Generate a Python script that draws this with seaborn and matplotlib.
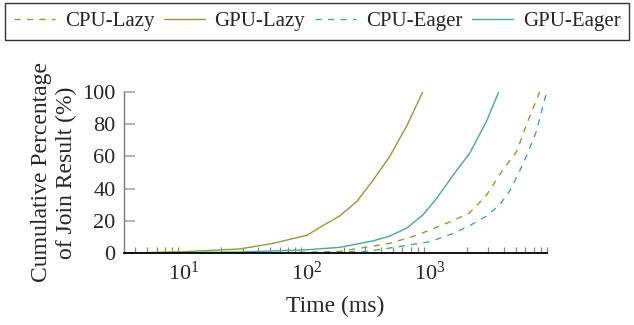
import numpy as np
import pandas as pd
import matplotlib
matplotlib.use("Agg")
import matplotlib.pyplot as plt
import seaborn as sns
from matplotlib.lines import Line2D

# Data (time in ms, cumulative % of join result)
gpu_lazy_t = [3.25, 5.3, 10, 13.5, 28.5, 53, 100, 135, 185, 255, 344, 473, 650, 877]
gpu_lazy_p = [0, 0.3, 0.8, 1.3, 2.5, 6, 11, 17, 23, 32, 45, 60, 79, 100]

gpu_eager_t = [3.25, 10, 28.5, 100, 185, 344, 473, 650, 877, 1140, 1538, 2115, 2904, 3640]
gpu_eager_p = [0, 0.3, 0.6, 2, 3.5, 7.5, 10.5, 15.5, 23.5, 34, 48, 62, 82, 100]

cpu_lazy_t = [3.25, 50, 100, 185, 473, 783, 1140, 1538, 2115, 2904, 3920, 5094, 6150, 7834]
cpu_lazy_p = [0, 0.2, 0.5, 1, 6, 11, 16, 20, 25, 36, 51.5, 63, 80, 100]

cpu_eager_t = [3.25, 100, 307, 570, 1000, 1538, 2115, 2904, 3709, 4467, 5395, 6265, 7413, 8930]
cpu_eager_p = [0, 0, 1, 4, 7, 12, 17, 23, 30, 38.5, 51, 62, 76, 100]

series_names = ["CPU-Lazy", "GPU-Lazy", "CPU-Eager", "GPU-Eager"]
y_ticks = [0, 20, 40, 60, 80, 100]

frames = []
for name, t, p in [("CPU-Lazy", cpu_lazy_t, cpu_lazy_p),
                   ("GPU-Lazy", gpu_lazy_t, gpu_lazy_p),
                   ("CPU-Eager", cpu_eager_t, cpu_eager_p),
                   ("GPU-Eager", gpu_eager_t, gpu_eager_p)]:
    frames.append(pd.DataFrame({"time": t, "pct": p, "series": name}))
df = pd.concat(frames, ignore_index=True)

sns.set_theme(style="white")
plt.rcParams["font.family"] = ["Liberation Serif", "DejaVu Serif"]
plt.rcParams["mathtext.fontset"] = "custom"
plt.rcParams["mathtext.rm"] = "Liberation Serif"
plt.rcParams["mathtext.it"] = "Liberation Serif:italic"

olive = "#999933"
teal = "#44AA99"
palette = {"CPU-Lazy": olive, "GPU-Lazy": olive, "CPU-Eager": teal, "GPU-Eager": teal}
dashes = {"CPU-Lazy": (4.5, 4.5), "GPU-Lazy": "", "CPU-Eager": (4.5, 4.5), "GPU-Eager": ""}

fig = plt.figure(figsize=(6.34, 3.25), dpi=100)
ax = fig.add_axes([124 / 634, 1 - 253 / 325, (547 - 124) / 634, (253 - 92) / 325])

sns.lineplot(data=df, x="time", y="pct", hue="series", style="series",
             hue_order=series_names, style_order=series_names,
             palette=palette, dashes=dashes, estimator=None, linewidth=1.0,
             ax=ax, legend=False)

ax.set_xscale("log")
ax.set_xlim(3.25, 9000)
ax.set_ylim(0, 100)
ax.set_yticks(y_ticks)
ax.set_xticks([10, 100, 1000])
ax.set_xticklabels([r"$10^{1}$", r"$10^{2}$", r"$10^{3}$"])
ax.xaxis.set_minor_locator(matplotlib.ticker.LogLocator(base=10, subs=np.arange(2, 10)))
ax.xaxis.set_minor_formatter(matplotlib.ticker.NullFormatter())

tick_fs = 16
label_fs = 17
leg_fs = 15
ax.tick_params(axis="x", which="major", direction="in", length=8, width=0.9,
               color="#888888", labelsize=tick_fs, pad=6)
ax.tick_params(axis="x", which="minor", direction="in", length=4.5, width=0.9,
               color="#888888", bottom=True)
ax.tick_params(axis="y", which="major", direction="in", length=8, width=1.2,
               color="#aaaaaa", labelsize=tick_fs, pad=6, left=True)

for s in ["top", "right"]:
    ax.spines[s].set_visible(False)
ax.spines["bottom"].set_color("black")
ax.spines["bottom"].set_linewidth(1.3)
ax.spines["left"].set_color("#777777")
ax.spines["left"].set_linewidth(1.0)

ax.set_xlabel("Time (ms)", fontsize=label_fs, labelpad=8)
ax.set_ylabel("Cumulative Percentage\nof Join Result (%)", fontsize=label_fs, labelpad=4,
              linespacing=1.25)

handles = [Line2D([], [], color=palette[n], linewidth=1.0,
                  linestyle=(0, dashes[n]) if dashes[n] else "-") for n in series_names]
leg = fig.legend(handles, series_names, loc="upper center", bbox_to_anchor=(0.5, 0.99),
                 ncol=4, frameon=True, fancybox=False, edgecolor="black", fontsize=leg_fs,
                 handlelength=2.0, handletextpad=0.45, columnspacing=0.45,
                 borderpad=0.4, borderaxespad=0.0)
leg.get_frame().set_linewidth(1.0)

fig.savefig("out.png", dpi=100)
